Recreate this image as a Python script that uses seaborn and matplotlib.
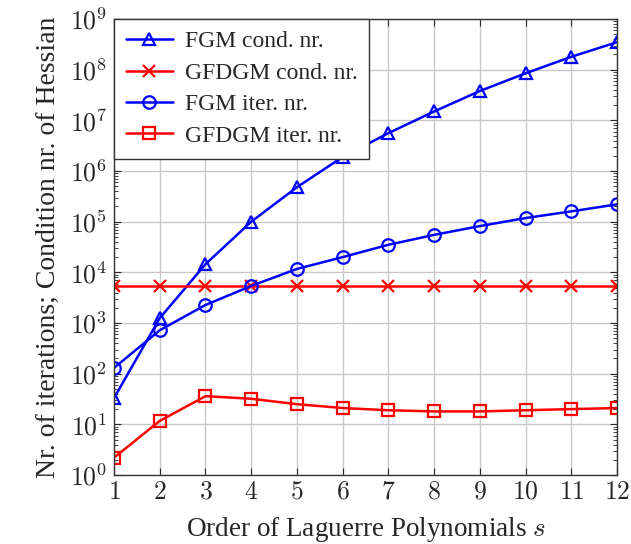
import numpy as np
import pandas as pd
import matplotlib
matplotlib.use("Agg")
import matplotlib.pyplot as plt
import seaborn as sns
from matplotlib.ticker import LogLocator, FixedLocator

order_s = [1, 2, 3, 4, 5, 6, 7, 8, 9, 10, 11, 12]
fgm_cond = [33, 1250, 14500, 1.0e5, 4.8e5, 1.9e6, 5.6e6, 1.5e7, 3.8e7, 8.5e7, 1.8e8, 3.5e8]
gfdgm_cond = [5400] * 12
fgm_iter = [130, 720, 2270, 5400, 1.17e4, 2.0e4, 3.5e4, 5.5e4, 8.2e4, 1.18e5, 1.6e5, 2.2e5]
gfdgm_iter = [2.2, 11.7, 36, 32, 25, 21, 19, 18, 18, 19, 20, 21]

sns.set_style("ticks")
plt.rcParams['font.family'] = ['Liberation Serif', 'DejaVu Serif']
plt.rcParams['mathtext.fontset'] = 'cm'

fig = plt.figure(figsize=(6.31, 5.44), dpi=100)
ax = fig.add_axes([0.1807, 0.1268, 0.7973, 0.8382])

series = [
    ("FGM cond. nr.", fgm_cond, "blue", "^"),
    ("GFDGM cond. nr.", gfdgm_cond, "red", "x"),
    ("FGM iter. nr.", fgm_iter, "blue", "o"),
    ("GFDGM iter. nr.", gfdgm_iter, "red", "s"),
]
for name, vals, col, mk in series:
    df = pd.DataFrame({"s": order_s, "v": vals})
    sns.lineplot(data=df, x="s", y="v", ax=ax, color=col, marker=mk, lw=1.8,
                 markersize=9 if mk != "x" else 8, markeredgewidth=1.6,
                 markerfacecolor="none" if mk != "x" else col,
                 markeredgecolor=col, label=name)

ax.set_yscale("log")
ax.set_xlim(1, 12)
ax.set_ylim(1, 1e9)
ax.set_xticks(order_s)
ax.yaxis.set_major_locator(FixedLocator([10.0 ** k for k in range(10)]))
ax.yaxis.set_minor_locator(LogLocator(base=10, subs=np.arange(2, 10), numticks=20))
ax.set_yticklabels([r"$10^{%d}$" % k for k in range(10)])
ax.set_xticklabels([r"$%d$" % k for k in order_s])
ax.tick_params(axis="both", which="both", direction="in", labelsize=18.5, top=True, right=True)
ax.tick_params(axis="y", which="minor", length=3, left=True, right=True)
ax.tick_params(axis="both", which="major", length=5, pad=5)
ax.grid(True, which="major", color="#c8c8c8", lw=1)
for sp in ax.spines.values():
    sp.set_color("#333333")
    sp.set_linewidth(1)

ax.set_xlabel("Order of Laguerre Polynomials $s$", fontsize=19.5, labelpad=8)
ax.set_ylabel("Nr. of iterations; Condition nr. of Hessian", fontsize=20, labelpad=6)

leg = ax.legend(loc="upper left", borderaxespad=0, fontsize=17, frameon=True,
                fancybox=False, edgecolor="#333333", framealpha=1,
                handlelength=2.0, labelspacing=0.42, borderpad=0.5, handletextpad=0.5)
leg.get_frame().set_linewidth(1)

fig.savefig("out.png", dpi=100)
